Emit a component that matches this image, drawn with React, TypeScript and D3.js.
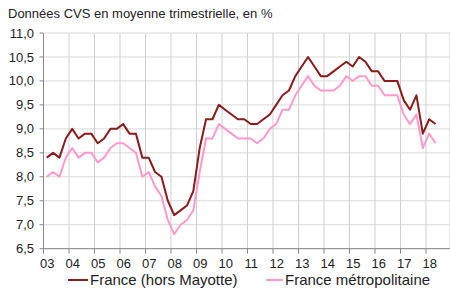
import React from "react";
import * as d3 from "d3";

const title = "Données CVS en moyenne trimestrielle, en %";
const yearLabels = ["03","04","05","06","07","08","09","10","11","12","13","14","15","16","17","18"];
const yTicks = [6.5, 7.0, 7.5, 8.0, 8.5, 9.0, 9.5, 10.0, 10.5, 11.0];
const seriesNames = ["France (hors Mayotte)", "France métropolitaine"];
const seriesColors = ["#8B1A1A", "#FF99CC"];

// Quarterly, 2003Q1 .. 2018Q2
const franceHorsMayotte = [
  8.4, 8.5, 8.4, 8.8, 9.0, 8.8, 8.9, 8.9, 8.7, 8.8, 9.0, 9.0, 9.1, 8.9, 8.9, 8.4,
  8.4, 8.1, 8.0, 7.5, 7.2, 7.3, 7.4, 7.7, 8.6, 9.2, 9.2, 9.5, 9.4, 9.3, 9.2, 9.2,
  9.1, 9.1, 9.2, 9.3, 9.5, 9.7, 9.8, 10.1, 10.3, 10.5, 10.3, 10.1, 10.1, 10.2, 10.3, 10.4,
  10.3, 10.5, 10.4, 10.2, 10.2, 10.0, 10.0, 10.0, 9.6, 9.4, 9.7, 8.9, 9.2, 9.1,
];
const franceMetro = [
  8.0, 8.1, 8.0, 8.4, 8.6, 8.4, 8.5, 8.5, 8.3, 8.4, 8.6, 8.7, 8.7, 8.6, 8.5, 8.0,
  8.1, 7.8, 7.6, 7.1, 6.8, 7.0, 7.1, 7.3, 8.1, 8.8, 8.8, 9.1, 9.0, 8.9, 8.8, 8.8,
  8.8, 8.7, 8.8, 9.0, 9.1, 9.4, 9.4, 9.7, 9.9, 10.1, 9.9, 9.8, 9.8, 9.8, 9.9, 10.1,
  10.0, 10.1, 10.1, 9.9, 9.9, 9.7, 9.7, 9.7, 9.3, 9.1, 9.3, 8.6, 8.9, 8.7,
];

const W = 450, H = 291;
const left = 43.5, right = 451.5, top = 33, bottom = 248.7;
const nCats = 64;

export default function App() {
  const x = d3.scaleLinear().domain([0, nCats]).range([left, right]);
  const y = d3.scaleLinear().domain([6.5, 11]).range([bottom, top]);
  const line = d3.line<number>().x((_, i) => x(i + 0.5)).y((v) => y(v));
  const font = "'Liberation Sans', Arial, sans-serif";
  const fmt = (v: number) => v.toFixed(1).replace(".", ",");
  return (
    <svg width={W} height={H} style={{ position: "absolute", left: 0, top: 0, background: "#fff" }} fontFamily={font}>
      <text x={8} y={18} fontSize={13} fill="#222">{title}</text>
      {yTicks.map((t) => (
        <g key={"y" + t}>
          <line x1={left} x2={W} y1={y(t)} y2={y(t)} stroke="#d9d9d9" strokeWidth={1} />
          <line x1={left - 4} x2={left} y1={y(t)} y2={y(t)} stroke="#888" strokeWidth={1} />
          <text x={34} y={y(t)} dy="0.35em" textAnchor="end" fontSize={13} fill="#222">{fmt(t)}</text>
        </g>
      ))}
      {yearLabels.map((lab, k) => (
        <g key={"x" + lab}>
          {k > 0 && <line x1={x(4 * k)} x2={x(4 * k)} y1={top} y2={bottom} stroke="#cfcfcf" strokeWidth={1} />}
          <line x1={x(4 * k)} x2={x(4 * k)} y1={bottom} y2={bottom + 5} stroke="#888" strokeWidth={1} />
          <text x={x(4 * k + 0.6)} y={263} dy="0.35em" textAnchor="middle" fontSize={13} fill="#222">{lab}</text>
        </g>
      ))}
      <line x1={W} x2={W} y1={top} y2={bottom} stroke="#cfcfcf" />
      <line x1={left} x2={left} y1={top} y2={bottom} stroke="#888" strokeWidth={1} />
      <line x1={left} x2={W} y1={bottom} y2={bottom} stroke="#888" strokeWidth={1} />
      <path d={line(franceMetro) || ""} fill="none" stroke={seriesColors[1]} strokeWidth={2} strokeLinejoin="round" />
      <path d={line(franceHorsMayotte) || ""} fill="none" stroke={seriesColors[0]} strokeWidth={2} strokeLinejoin="round" />
      <g>
        <line x1={68} x2={88} y1={280} y2={280} stroke={seriesColors[0]} strokeWidth={2} />
        <text x={90} y={280} dy="0.35em" fontSize={15} fill="#222">{seriesNames[0]}</text>
        <line x1={266} x2={283} y1={280} y2={280} stroke={seriesColors[1]} strokeWidth={2} />
        <text x={285} y={280} dy="0.35em" fontSize={15} fill="#222">{seriesNames[1]}</text>
      </g>
    </svg>
  );
}
